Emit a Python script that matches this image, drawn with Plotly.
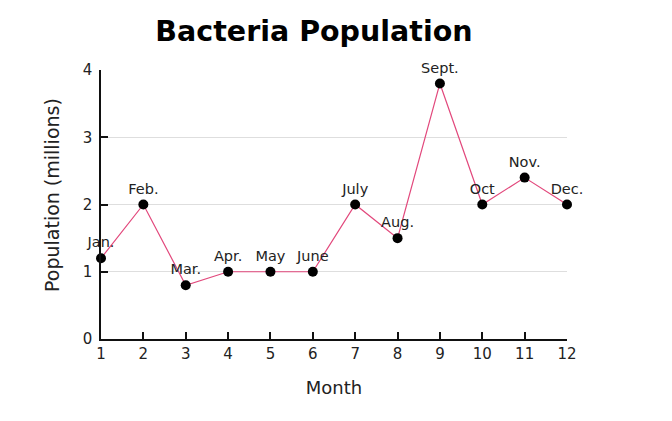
import plotly.graph_objects as go

months = [1, 2, 3, 4, 5, 6, 7, 8, 9, 10, 11, 12]
population = [1.2, 2.0, 0.8, 1.0, 1.0, 1.0, 2.0, 1.5, 3.8, 2.0, 2.4, 2.0]
labels = ["Jan.", "Feb.", "Mar.", "Apr.", "May", "June", "July", "Aug.", "Sept.", "Oct", "Nov.", "Dec."]

fig = go.Figure()
fig.add_trace(go.Scatter(
    x=months, y=population, text=labels,
    mode="lines+markers+text",
    textposition="top center",
    textfont=dict(family="DejaVu Sans", size=14.5, color="#222"),
    line=dict(color="#e2487c", width=1.2),
    marker=dict(color="black", size=10),
    cliponaxis=False,
    showlegend=False,
))

fig.update_layout(
    width=672, height=421,
    margin=dict(l=93, r=113, t=62, b=90),
    paper_bgcolor="white", plot_bgcolor="white",
    title=dict(text="<b>Bacteria Population</b>", x=0.457, xref="paper", xanchor="center",
               y=0.945, yref="container", yanchor="middle",
               font=dict(family="DejaVu Sans", size=28.5, color="black")),
    font=dict(family="DejaVu Sans", size=15, color="#222"),
    xaxis=dict(range=[1, 12], tickmode="array", tickvals=months, showgrid=False,
               showline=True, linecolor="#111", linewidth=1.5,
               ticks="inside", ticklen=7, tickcolor="#111", tickwidth=1.5,
               title=dict(text="Month", font=dict(size=18), standoff=20),
               zeroline=False),
    yaxis=dict(range=[0, 4], tickvals=[0, 1, 2, 3, 4], showgrid=True, gridcolor="#dedede",
               showline=True, linecolor="#111", linewidth=1.5,
               ticks="inside", ticklen=7, tickcolor="#111", tickwidth=1.5,
               ticklabelstandoff=4,
               zeroline=False),
    annotations=[dict(text="Population (millions)", textangle=-90,
                      xref="paper", yref="paper", x=(44 - 93) / 466, y=1 - (187 - 62) / 269,
                      xanchor="center", yanchor="middle", showarrow=False,
                      font=dict(family="DejaVu Sans", size=19, color="#222"))],
)

fig.write_html("out.html")
